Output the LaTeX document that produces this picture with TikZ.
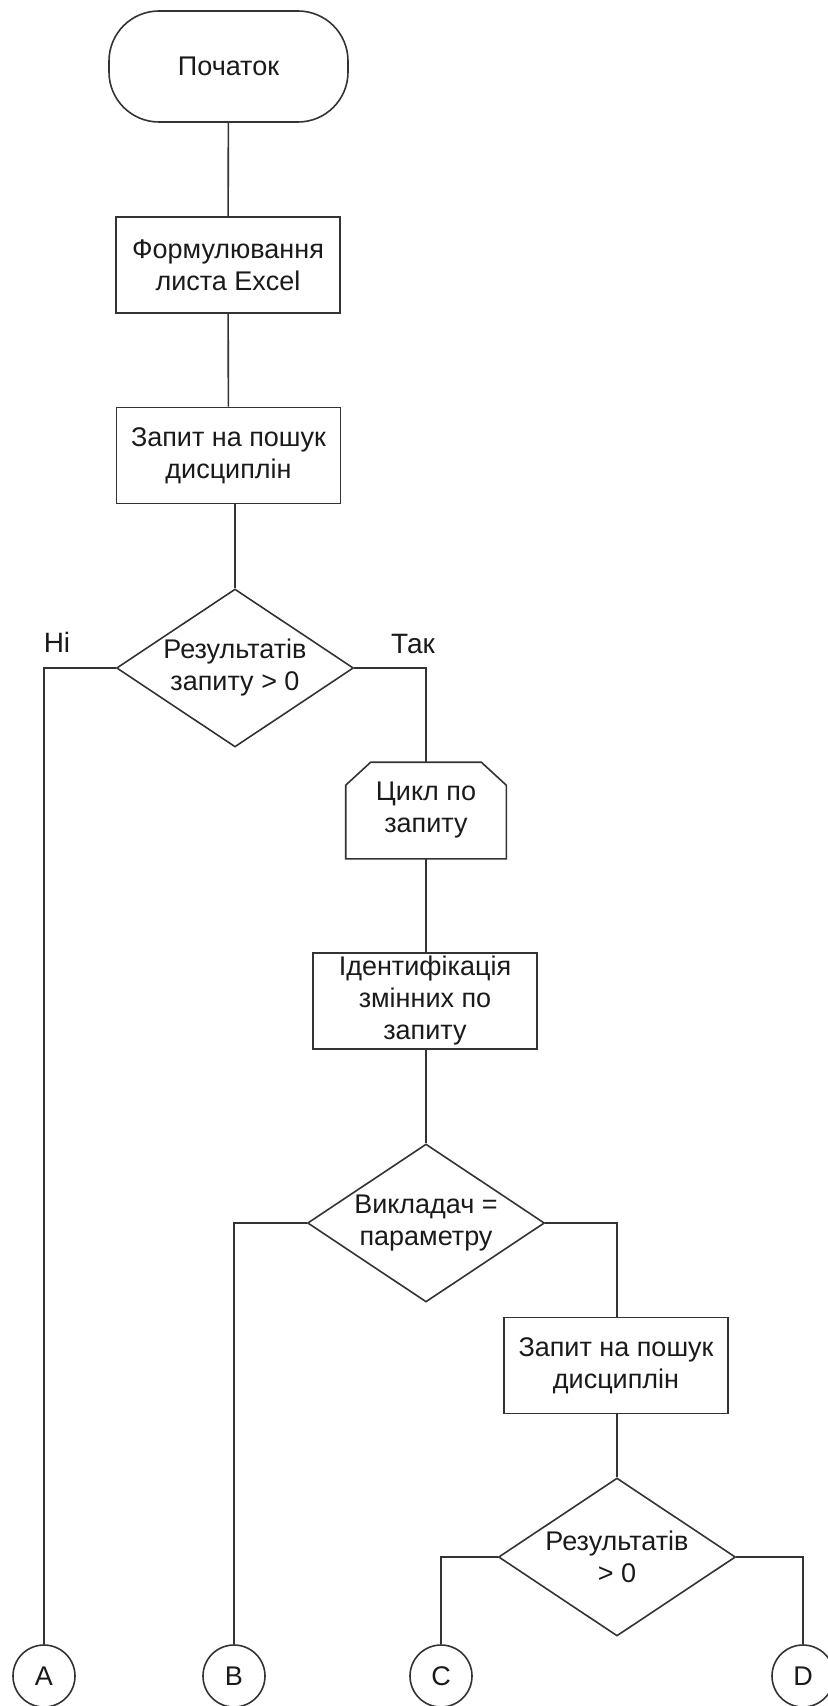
\documentclass[tikz,border=0pt]{standalone}
\usepackage{fontspec}
\setmainfont{Liberation Sans}
\usetikzlibrary{shapes.geometric,positioning}
\definecolor{linedark}{HTML}{333333}
\definecolor{textdark}{HTML}{1A1A1A}
\tikzset{
  base/.style={draw=linedark, line width=0.8pt, align=center,
    font=\fontsize{13.5}{16}\selectfont, text=textdark, inner sep=0pt},
  terminal/.style={base, rectangle, rounded corners=25pt,
    minimum width=119.5pt, minimum height=55.5pt},
  process/.style={base, rectangle, minimum width=112pt, minimum height=48pt},
  decision/.style={base, diamond, aspect=1.5,
    minimum width=118.5pt, minimum height=79pt},
  loopbox/.style={base, draw=none, rectangle,
    minimum width=79.5pt, minimum height=47.5pt},
  connector/.style={base, circle, minimum size=31pt},
  link/.style={draw=linedark, line width=0.8pt},
  branch/.style={font=\fontsize{14}{16}\selectfont, text=textdark}
}

\begin{document}
\begin{tikzpicture}[x=0.5pt, y=-0.5pt]
\useasboundingbox (0,0) rectangle (827,1706);
% main column
\node[terminal] (start) at (228.5,66.5) {Початок};
\node[process] (sheet) at (228,265) {Формулювання\\листа Excel};
\node[process] (query) at (228.5,455.5) {Запит на пошук\\дисциплін};
\node[decision] (anyres) at (235,668) {Результатів\\запиту > 0};
% yes branch
\node[loopbox] (loop) at (426,810.5) {Цикл по\\запиту};
\draw[link] ([xshift=12.5pt]loop.north west) -- ([xshift=-12.5pt]loop.north east)
  -- ([yshift=-11.5pt]loop.north east) -- (loop.south east)
  -- (loop.south west) -- ([yshift=-11.5pt]loop.north west) -- cycle;
\node[process] (ident) at (425,1001) {Ідентифікація\\змінних по\\запиту};
\node[decision] (teacher) at (426,1223) {Викладач =\\параметру};
\node[process] (subquery) at (616,1365.5) {Запит на пошук\\дисциплін};
\node[decision] (subres) at (617,1557) {Результатів\\> 0};
% off-page connectors
\node[connector] (A) at (44,1676) {A};
\node[connector] (B) at (234,1676) {B};
\node[connector] (C) at (441,1676) {C};
\node[connector] (D) at (803,1676) {D};
% branch labels
\node[branch] (lblno) at (57,642) {Ні};
\node[branch] (lblyes) at (413,644) {Так};

\draw[link] (start) -- (sheet);
\draw[link] (sheet) -- (query);
\draw[link] (query.south -| anyres.north) -- (anyres.north);
\draw[link] (anyres.west) -| (A.north);
\draw[link] (anyres.east) -| (loop.north);
\draw[link] (loop.south) -- (loop.south |- ident.north);
\draw[link] (ident.south -| teacher.north) -- (teacher.north);
\draw[link] (teacher.west) -| (B.north);
\draw[link] (teacher.east) -| (subquery.north -| subres.north);
\draw[link] (subquery.south -| subres.north) -- (subres.north);
\draw[link] (subres.west) -| (C.north);
\draw[link] (subres.east) -| (D.north);
\end{tikzpicture}
\end{document}
